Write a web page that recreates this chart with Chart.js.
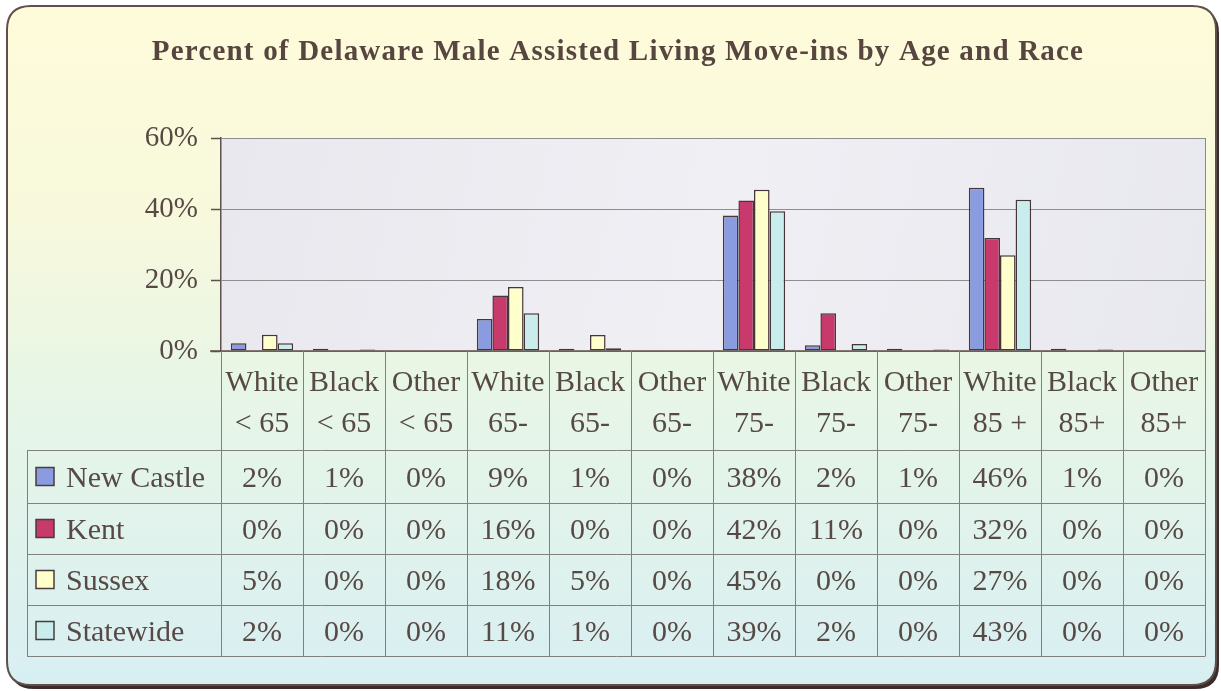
<!DOCTYPE html>
<html><head><meta charset="utf-8">
<script src="https://cdn.jsdelivr.net/npm/chart.js@4/dist/chart.umd.min.js"></script>
<style>html,body{margin:0;padding:0;background:#fff;}#wrap{width:1221px;height:691px;}</style>
</head><body><div id="wrap"><canvas id="c" width="1221" height="691"></canvas></div>
<script>
const chartTitle = 'Percent of Delaware Male Assisted Living Move-ins by Age and Race';
const raceLabels = ['White','Black','Other','White','Black','Other','White','Black','Other','White','Black','Other'];
const ageLabels  = ['< 65','< 65','< 65','65-','65-','65-','75-','75-','75-','85 +','85+','85+'];
const seriesNames = ['New Castle','Kent','Sussex','Statewide'];
const newCastle = [2.2, 0.6, 0, 9.0, 0.6, 0, 38.2, 1.6, 0.6, 46.0, 0.6, 0];
const kent      = [0, 0, 0, 15.6, 0, 0, 42.4, 10.6, 0, 31.8, 0, 0];
const sussex    = [4.6, 0, 0, 18.0, 4.5, 0, 45.4, 0, 0, 27.0, 0, 0];
const statewide = [2.2, 0.4, 0, 10.6, 0.8, 0, 39.4, 2.0, 0.4, 42.6, 0.4, 0];
const yTickValues = [0, 20, 40, 60];
const seriesColors = ['#8b9be0', '#c83a6c', '#ffffcc', '#c9ecec'];

const FONT = "'Liberation Serif', 'Times New Roman', serif";
const TEXT = '#574a46';
const LINE = '#808080';

const catLabels = raceLabels.map((r, i) => r + ' ' + ageLabels[i]);
const allSeries = [newCastle, kent, sussex, statewide];

function roundRect(ctx, x, y, w, h, r) {
  ctx.beginPath();
  ctx.moveTo(x + r, y);
  ctx.lineTo(x + w - r, y);
  ctx.quadraticCurveTo(x + w, y, x + w, y + r);
  ctx.lineTo(x + w, y + h - r);
  ctx.quadraticCurveTo(x + w, y + h, x + w - r, y + h);
  ctx.lineTo(x + r, y + h);
  ctx.quadraticCurveTo(x, y + h, x, y + h - r);
  ctx.lineTo(x, y + r);
  ctx.quadraticCurveTo(x, y, x + r, y);
  ctx.closePath();
}

const framePlugin = {
  id: 'frame',
  beforeDraw(chart) {
    const ctx = chart.ctx, ca = chart.chartArea;
    ctx.save();
    ctx.fillStyle = '#ffffff';
    ctx.fillRect(0, 0, chart.width, chart.height);
    ctx.fillStyle = '#3b2c2a';
    roundRect(ctx, 10, 9, 1209, 680, 24);
    ctx.fill();
    const g = ctx.createLinearGradient(0, 8, 0, 685);
    g.addColorStop(0, '#fefbda');
    g.addColorStop(0.3, '#f8f9dc');
    g.addColorStop(0.55, '#e8f6e6');
    g.addColorStop(1, '#d8eff2');
    ctx.fillStyle = g;
    roundRect(ctx, 7, 6, 1209, 679, 24);
    ctx.fill();
    ctx.lineWidth = 2;
    ctx.strokeStyle = '#5e504c';
    ctx.stroke();
    const pg = ctx.createLinearGradient(ca.left, ca.top, ca.right, ca.bottom);
    pg.addColorStop(0, '#e9e8ee');
    pg.addColorStop(0.5, '#efeff4');
    pg.addColorStop(1, '#e8e8ef');
    ctx.fillStyle = pg;
    ctx.fillRect(ca.left, ca.top, ca.right - ca.left, ca.bottom - ca.top);
    ctx.restore();
  },
  beforeDatasetsDraw(chart) {
    const ctx = chart.ctx, ca = chart.chartArea;
    ctx.save();
    ctx.strokeStyle = '#8a8a8a';
    ctx.lineWidth = 1;
    ctx.beginPath();
    ctx.moveTo(ca.right + 0.5, ca.top);
    ctx.lineTo(ca.right + 0.5, ca.bottom);
    ctx.stroke();
    ctx.restore();
  },
  afterDatasetsDraw(chart) {
    const ctx = chart.ctx, ca = chart.chartArea;
    ctx.save();
    ctx.strokeStyle = '#5e504c';
    ctx.lineWidth = 1.5;
    ctx.beginPath();
    ctx.moveTo(ca.left - 11, ca.bottom);
    ctx.lineTo(ca.right, ca.bottom);
    ctx.stroke();
    ctx.restore();
  },
  afterDraw(chart) {
    const ctx = chart.ctx, ca = chart.chartArea, xs = chart.scales.x;
    const n = catLabels.length;
    const colW = xs.width / n;
    ctx.save();
    ctx.fillStyle = '#574640';
    ctx.font = 'bold 29px ' + FONT;
    ctx.textAlign = 'center';
    ctx.textBaseline = 'alphabetic';
    if ('letterSpacing' in ctx) ctx.letterSpacing = '1.2px';
    ctx.fillText(chartTitle, 618, 60);
    if ('letterSpacing' in ctx) ctx.letterSpacing = '0px';

    const tableLeft = 27;
    const rowLines = [ca.bottom + 99, ca.bottom + 152, ca.bottom + 203, ca.bottom + 254, ca.bottom + 305];
    const bottom = rowLines[rowLines.length - 1];
    ctx.strokeStyle = LINE;
    ctx.lineWidth = 1;
    ctx.beginPath();
    for (let i = 0; i <= n; i++) {
      const x = Math.round(xs.getPixelForValue(Math.min(i, n - 1)) + (i === n ? colW / 2 : -colW / 2)) + 0.5;
      ctx.moveTo(x, ca.bottom);
      ctx.lineTo(x, bottom);
    }
    rowLines.forEach(y => { ctx.moveTo(tableLeft, y + 0.5); ctx.lineTo(ca.right + 0.5, y + 0.5); });
    ctx.moveTo(tableLeft + 0.5, rowLines[0]);
    ctx.lineTo(tableLeft + 0.5, bottom);
    ctx.stroke();

    ctx.fillStyle = TEXT;
    ctx.font = '30px ' + FONT;
    ctx.textAlign = 'center';
    for (let i = 0; i < n; i++) {
      const cx = xs.getPixelForValue(i);
      ctx.fillText(raceLabels[i], cx, ca.bottom + 40);
      ctx.fillText(ageLabels[i], cx, ca.bottom + 81);
    }
    for (let s = 0; s < allSeries.length; s++) {
      const base = (rowLines[s] + rowLines[s + 1]) / 2 + 10;
      const sqY = (rowLines[s] + rowLines[s + 1]) / 2 - 9;
      ctx.fillStyle = seriesColors[s];
      ctx.fillRect(36, sqY, 18, 18);
      ctx.strokeStyle = '#4a3c3a';
      ctx.lineWidth = 1.5;
      ctx.strokeRect(36, sqY, 18, 18);
      ctx.fillStyle = TEXT;
      ctx.textAlign = 'left';
      ctx.fillText(seriesNames[s], 66, base);
      ctx.textAlign = 'center';
      for (let i = 0; i < n; i++) {
        ctx.fillText(Math.round(allSeries[s][i]) + '%', xs.getPixelForValue(i), base);
      }
    }
    ctx.restore();
  }
};

new Chart(document.getElementById('c'), {
  type: 'bar',
  data: {
    labels: catLabels,
    datasets: seriesNames.map((name, s) => ({
      label: name,
      data: allSeries[s],
      backgroundColor: seriesColors[s],
      borderColor: '#45363a',
      borderWidth: 1.5,
      borderSkipped: false,
      barPercentage: 1,
      categoryPercentage: 0.76
    }))
  },
  options: {
    responsive: false,
    devicePixelRatio: 1,
    animation: false,
    layout: { padding: { left: 10, right: 16, top: 138, bottom: 340 } },
    plugins: { legend: { display: false }, tooltip: { enabled: false }, title: { display: false } },
    scales: {
      x: { display: false },
      y: {
        min: 0, max: 60,
        afterBuildTicks(scale) { scale.ticks = yTickValues.map(v => ({ value: v })); },
        afterFit(scale) { scale.width = 211; },
        ticks: {
          callback: v => v + '%',
          font: { family: FONT, size: 29 },
          color: TEXT,
          padding: 13
        },
        grid: { color: '#8e8e8e', lineWidth: 1, tickLength: 10, tickColor: '#5e504c', tickWidth: 1.5 },
        border: { color: '#5e504c', width: 1.5 }
      }
    }
  },
  plugins: [framePlugin]
});
</script>
</body></html>
